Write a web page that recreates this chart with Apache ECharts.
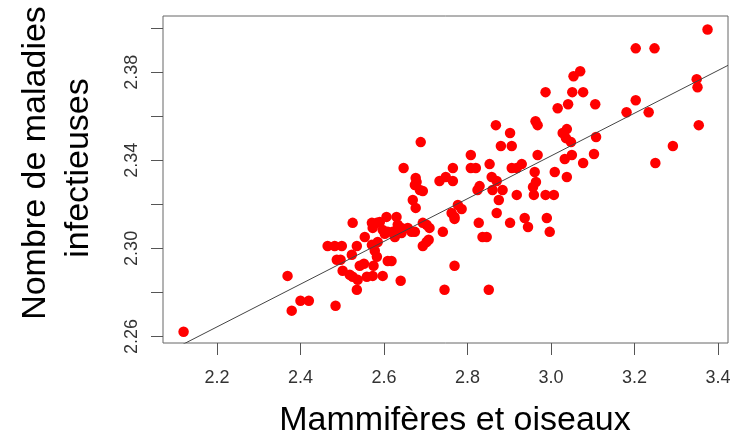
<!DOCTYPE html>
<html>
<head>
<meta charset="utf-8">
<script src="https://cdn.jsdelivr.net/npm/echarts@6/dist/echarts.min.js"></script>
<style>
html,body{margin:0;padding:0;background:#fff;}
#chart{width:735px;height:439px;}
</style>
</head>
<body>
<div id="chart"></div>
<script>
// Mammifères et oiseaux (x) vs Nombre de maladies infectieuses (y)
const mammalsBirds = [
  2.120, 2.369, 2.379, 2.400, 2.420, 2.484, 2.465, 2.482, 2.499, 2.487,
  2.496, 2.501, 2.525, 2.535, 2.523, 2.518, 2.525, 2.537, 2.535, 2.542,
  2.554, 2.552, 2.559, 2.573, 2.575, 2.571, 2.578, 2.583, 2.571, 2.583,
  2.590, 2.606, 2.573, 2.597, 2.609, 2.602, 2.585, 2.609, 2.618, 2.597,
  2.621, 2.630, 2.633, 2.642, 2.642, 2.626, 2.640, 2.657, 2.666, 2.674,
  2.676, 2.669, 2.686, 2.674, 2.678, 2.693, 2.702, 2.709, 2.693, 2.702,
  2.707, 2.741, 2.745, 2.733, 2.748, 2.765, 2.762, 2.769, 2.777, 2.786,
  2.769, 2.769, 2.824, 2.829, 2.827, 2.836, 2.846, 2.851, 2.858, 2.870,
  2.860, 2.884, 2.875, 2.870, 2.902, 2.918, 2.937, 2.945, 2.964, 2.957,
  2.959, 2.987, 3.007, 2.990, 2.997, 3.038, 2.688, 2.647, 2.765, 2.808,
  2.808, 2.820, 2.853, 2.868, 2.902, 2.880, 2.906, 2.906, 2.918, 2.930,
  2.961, 2.963, 2.968, 2.968, 2.987, 3.016, 3.054, 3.028, 3.036, 3.048,
  3.050, 3.009, 2.676, 2.693, 3.375, 3.203, 3.248, 3.070, 3.051, 3.077,
  3.041, 3.106, 3.203, 3.181, 3.234, 3.349, 3.351, 3.038, 3.108, 3.354,
  3.292, 3.033, 3.103, 3.077, 3.250
];
const infectiousDiseases = [
  2.2621, 2.2875, 2.2717, 2.2762, 2.2762, 2.2739, 2.3011, 2.3011, 2.3011, 2.2948,
  2.2948, 2.2898, 2.3116, 2.3011, 2.2971, 2.2880, 2.2871, 2.2857, 2.2812, 2.2921,
  2.3052, 2.2930, 2.2871, 2.2875, 2.2921, 2.3016, 2.2989, 2.2962, 2.3116, 2.3116,
  2.3120, 2.3143, 2.3093, 2.3084, 2.3075, 2.3066, 2.3029, 2.2943, 2.2943, 2.2875,
  2.3075, 2.3143, 2.3107, 2.3093, 2.3070, 2.3052, 2.2853, 2.3093, 2.3075, 2.3075,
  2.3184, 2.3220, 2.3265, 2.3288, 2.3302, 2.3116, 2.3107, 2.3093, 2.3011, 2.3029,
  2.3039, 2.3075, 2.2812, 2.3306, 2.3324, 2.3306, 2.3161, 2.3143, 2.3197, 2.3179,
  2.3134, 2.2921, 2.3265, 2.3283, 2.3116, 2.3052, 2.3052, 2.2812, 2.3324, 2.3306,
  2.3265, 2.3265, 2.3220, 2.3161, 2.3116, 2.3243, 2.3138, 2.3097, 2.3302, 2.3279,
  2.3243, 2.3243, 2.3243, 2.3138, 2.3075, 2.3324, 2.3483, 2.3365, 2.3365, 2.3424,
  2.3365, 2.3365, 2.3383, 2.3560, 2.3524, 2.3465, 2.3465, 2.3365, 2.3365, 2.3383,
  2.3347, 2.3578, 2.3560, 2.3424, 2.3710, 2.3637, 2.3782, 2.3524, 2.3501, 2.3483,
  2.3424, 2.3347, 2.3320, 2.3261, 2.3995, 2.3909, 2.3909, 2.3805, 2.3710, 2.3710,
  2.3655, 2.3655, 2.3673, 2.3619, 2.3619, 2.3769, 2.3732, 2.3542, 2.3506, 2.3560,
  2.3465, 2.3406, 2.3429, 2.3388, 2.3388
];
// fitted regression line
const fitIntercept = 2.0507;
const fitSlope = 0.0971;

const xTicks = [2.2, 2.4, 2.6, 2.8, 3.0, 3.2, 3.4];
const yTicks = [2.26, 2.28, 2.30, 2.32, 2.34, 2.36, 2.38, 2.40];
const yTickLabels = [2.26, 2.30, 2.34, 2.38];
const xMin = 2.0707, xMax = 3.424, yMin = 2.257, yMax = 2.4056;

const points = mammalsBirds.map((x, i) => [x, infectiousDiseases[i]]);
const fitLine = [[xMin, fitIntercept + fitSlope * xMin], [xMax, fitIntercept + fitSlope * xMax]];

const chart = echarts.init(document.getElementById('chart'), null, {renderer: 'canvas'});
chart.setOption({
  animation: false,
  backgroundColor: '#ffffff',
  grid: {left: 163, right: 7, top: 16, bottom: 96, show: true, borderColor: '#666', borderWidth: 1, backgroundColor: 'transparent'},
  xAxis: {
    type: 'value', min: xMin, max: xMax,
    axisLine: {show: false},
    splitLine: {show: false},
    axisTick: {show: true, customValues: xTicks, length: 12, lineStyle: {color: '#555', width: 1}},
    axisLabel: {customValues: xTicks, formatter: v => v.toFixed(1), fontSize: 18, color: '#333', margin: 26, fontFamily: 'Liberation Sans'}
  },
  yAxis: {
    type: 'value', min: yMin, max: yMax,
    axisLine: {show: false},
    splitLine: {show: false},
    axisTick: {show: true, customValues: yTicks, length: 12, lineStyle: {color: '#555', width: 1}},
    axisLabel: {customValues: yTickLabels, formatter: v => v.toFixed(2), fontSize: 18, color: '#333', margin: 22, rotate: 90, fontFamily: 'Liberation Sans'}
  },
  graphic: [
    {type: 'text', x: 36, y: 163, rotation: Math.PI / 2,
     style: {text: 'Nombre de maladies', font: '34px "Liberation Sans"', fill: '#000', align: 'center', verticalAlign: 'middle'}},
    {type: 'text', x: 79, y: 168, rotation: Math.PI / 2,
     style: {text: 'infectieuses', font: '34px "Liberation Sans"', fill: '#000', align: 'center', verticalAlign: 'middle'}},
    {type: 'text', x: 455, y: 421,
     style: {text: 'Mammifères et oiseaux', font: '34px "Liberation Sans"', fill: '#000', align: 'center', verticalAlign: 'middle'}}
  ],
  series: [
    {type: 'scatter', data: points, symbol: 'circle', symbolSize: 10.5, itemStyle: {color: '#ff0000', opacity: 1}, z: 2},
    {type: 'line', data: fitLine, showSymbol: false, symbol: 'none', clip: true, lineStyle: {color: '#444', width: 1}, z: 3}
  ]
});
</script>
</body>
</html>
